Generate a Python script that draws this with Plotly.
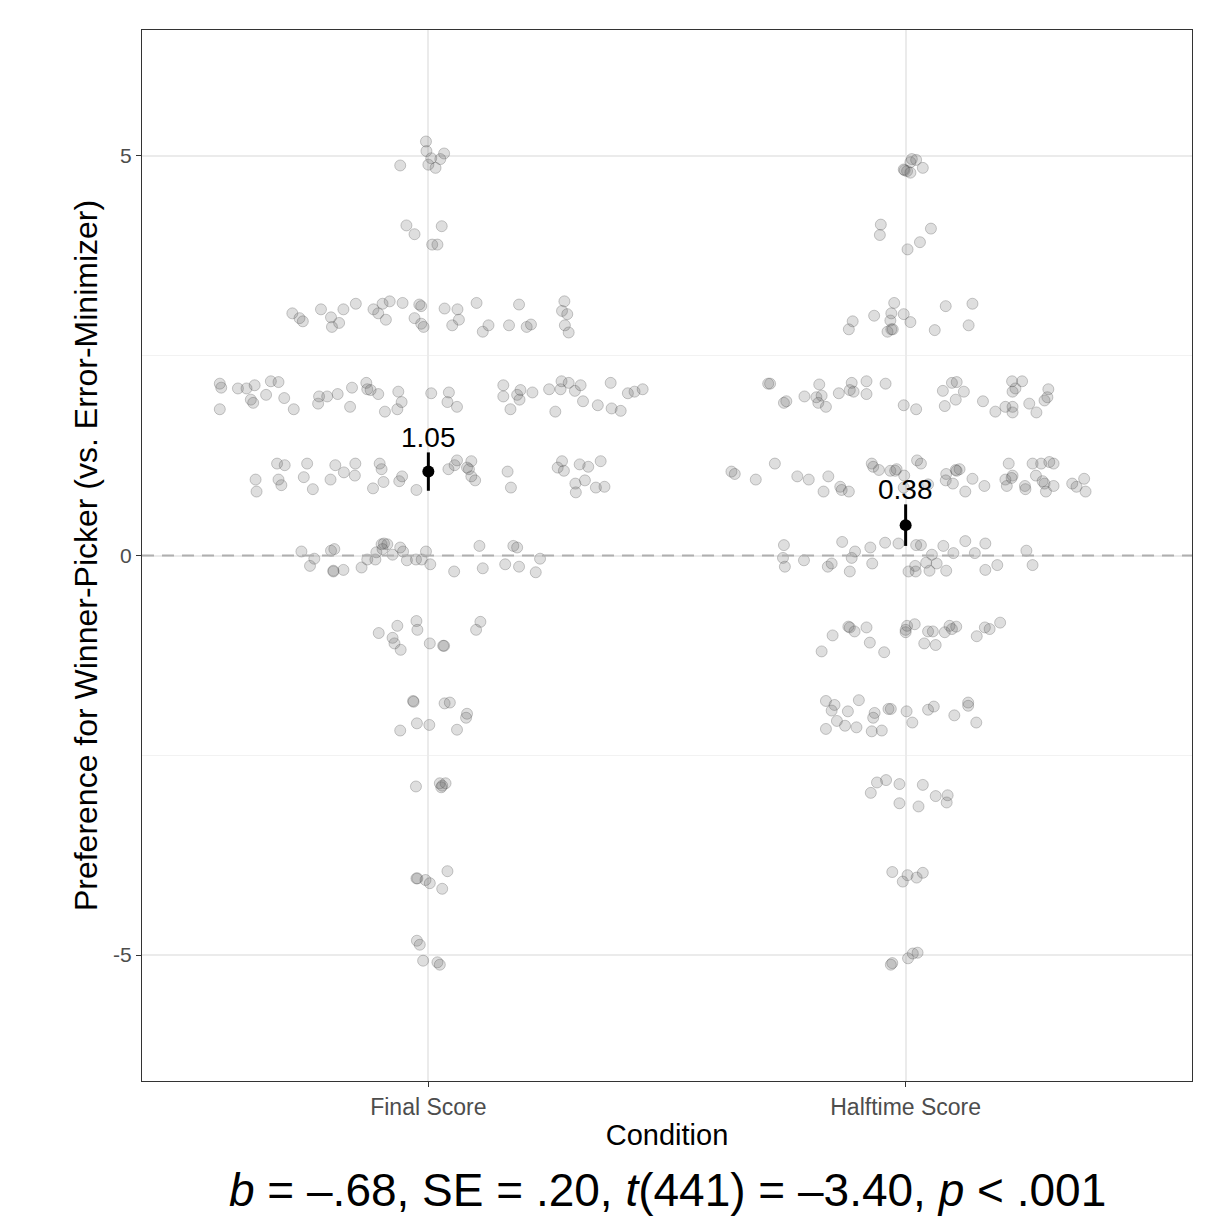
import plotly.graph_objects as go

# ---------------- data ----------------
categories = ["Final Score", "Halftime Score"]
cat_pos = [1, 2]

# (horizontal jitter offset, preference value) for each participant
final_points = [
    # around 5
    (-0.005, 5.18), (-0.004, 5.06), (0.033, 5.03), (0.006, 4.97), (0.025, 4.96),
    (-0.059, 4.88), (0.000, 4.89), (0.015, 4.85),
    # around 4
    (-0.046, 4.13), (-0.029, 4.02), (0.028, 4.12), (0.008, 3.89), (0.019, 3.89),
    # around 3
    (-0.285, 3.03), (-0.270, 2.97), (-0.263, 2.93), (-0.225, 3.08), (-0.204, 2.98),
    (-0.202, 2.86), (-0.187, 2.91), (-0.178, 3.08), (-0.152, 3.15), (-0.115, 3.08),
    (-0.105, 3.03), (-0.096, 3.15), (-0.081, 3.18), (-0.089, 2.95), (-0.054, 3.16),
    (-0.029, 2.97), (-0.019, 3.14), (-0.015, 3.12), (-0.015, 2.90), (-0.010, 2.86),
    (0.034, 3.09), (0.061, 3.08), (0.064, 2.95), (0.050, 2.88), (0.101, 3.16),
    (0.114, 2.80), (0.126, 2.88), (0.169, 2.88), (0.190, 3.14), (0.206, 2.86),
    (0.215, 2.89), (0.285, 3.18), (0.280, 3.06), (0.291, 3.02), (0.286, 2.88),
    (0.294, 2.79),
    # around 2
    (-0.437, 2.15), (-0.434, 2.10), (-0.399, 2.09), (-0.381, 2.09), (-0.364, 2.13),
    (-0.330, 2.18), (-0.314, 2.17), (-0.372, 1.95), (-0.367, 1.91), (-0.340, 2.01),
    (-0.302, 1.97), (-0.282, 1.83), (-0.437, 1.83), (-0.229, 1.99), (-0.231, 1.90),
    (-0.212, 1.99), (-0.190, 2.02), (-0.164, 1.86), (-0.160, 2.10), (-0.130, 2.16),
    (-0.128, 2.08), (-0.121, 2.07), (-0.105, 2.02), (-0.091, 1.80), (-0.065, 1.83),
    (-0.056, 1.92), (-0.063, 2.05), (0.006, 2.03), (0.043, 2.04), (0.040, 1.92),
    (0.060, 1.86), (0.157, 2.13), (0.157, 1.99), (0.172, 1.83), (0.186, 2.01),
    (0.193, 2.07), (0.191, 1.95), (0.218, 2.04), (0.253, 2.08), (0.277, 2.08),
    (0.279, 2.18), (0.294, 2.16), (0.307, 2.06), (0.319, 2.13), (0.266, 1.80),
    (0.324, 1.93), (0.355, 1.88), (0.382, 2.16), (0.384, 1.84), (0.403, 1.81),
    (0.418, 2.03), (0.432, 2.05), (0.449, 2.08),
    # around 1
    (-0.317, 1.15), (-0.301, 1.13), (-0.254, 1.15), (-0.195, 1.13), (-0.177, 1.04),
    (-0.153, 1.15), (-0.154, 1.00), (-0.102, 1.15), (-0.098, 1.08), (-0.362, 0.95),
    (-0.360, 0.80), (-0.314, 0.95), (-0.308, 0.88), (-0.261, 0.98), (-0.242, 0.83),
    (-0.205, 0.95), (-0.116, 0.84), (-0.094, 0.92), (-0.061, 0.93), (-0.055, 0.99),
    (-0.025, 0.82), (0.042, 1.08), (0.055, 1.13), (0.060, 1.19), (0.090, 1.18),
    (0.081, 1.10), (0.085, 1.08), (0.090, 0.99), (0.098, 0.94), (0.166, 1.05),
    (0.173, 0.85), (0.280, 1.18), (0.271, 1.10), (0.284, 1.06), (0.317, 1.14),
    (0.335, 1.11), (0.361, 1.18), (0.308, 0.90), (0.328, 0.94), (0.351, 0.85),
    (0.369, 0.86), (0.309, 0.79),
    # around 0
    (-0.266, 0.05), (-0.239, -0.04), (-0.248, -0.13), (-0.204, 0.06), (-0.197, 0.08),
    (-0.199, -0.19), (-0.199, -0.20), (-0.178, -0.18), (-0.140, -0.15), (-0.128, -0.05),
    (-0.111, -0.05), (-0.109, 0.04), (-0.098, 0.14), (-0.093, 0.15), (-0.086, 0.14),
    (-0.096, 0.08), (-0.075, 0.01), (-0.059, 0.10), (-0.053, 0.05), (-0.045, -0.06),
    (-0.026, -0.05), (-0.014, -0.05), (-0.005, 0.05), (0.004, -0.11), (0.054, -0.20),
    (0.107, 0.12), (0.114, -0.16), (0.161, -0.11), (0.178, 0.12), (0.186, 0.10),
    (0.190, -0.14), (0.225, -0.21), (0.234, -0.04),
    # around -1
    (-0.025, -0.82), (-0.065, -0.88), (-0.023, -0.93), (-0.104, -0.97), (-0.075, -1.03),
    (-0.071, -1.10), (-0.058, -1.18), (0.003, -1.10), (0.031, -1.13), (0.033, -1.13),
    (0.109, -0.83), (0.100, -0.93),
    # around -2
    (-0.032, -1.82), (-0.031, -1.83), (0.034, -1.85), (0.045, -1.84), (0.081, -1.98),
    (0.079, -2.03), (-0.059, -2.19), (-0.024, -2.10), (0.002, -2.12), (0.060, -2.18),
    # around -3
    (-0.026, -2.89), (0.024, -2.85), (0.036, -2.85), (0.027, -2.90), (0.029, -2.88),
    # around -4
    (-0.025, -4.04), (-0.023, -4.04), (-0.006, -4.06), (0.003, -4.10), (0.040, -3.95),
    (0.029, -4.17),
    # around -5
    (-0.024, -4.82), (-0.018, -4.87), (-0.011, -5.07), (0.019, -5.09), (0.024, -5.12),
]

half_points = [
    # around 5
    (0.013, 4.96), (0.022, 4.95), (0.010, 4.92), (-0.002, 4.82), (0.003, 4.81),
    (0.010, 4.79), (0.036, 4.85), (-0.004, 4.83),
    # around 4
    (-0.052, 4.14), (-0.054, 4.01), (0.053, 4.09), (0.030, 3.92), (0.004, 3.83),
    # around 3
    (-0.024, 3.16), (-0.066, 3.00), (-0.030, 3.03), (-0.004, 3.02), (-0.111, 2.93),
    (-0.119, 2.83), (-0.032, 2.94), (0.010, 2.92), (-0.038, 2.80), (-0.030, 2.83),
    (-0.027, 2.83), (0.061, 2.82), (0.084, 3.12), (0.140, 3.15), (0.132, 2.88),
    # around 2
    (-0.288, 2.15), (-0.284, 2.15), (-0.255, 1.91), (-0.250, 1.93), (-0.212, 1.99),
    (-0.181, 2.14), (-0.187, 1.98), (-0.176, 2.00), (-0.183, 1.91), (-0.167, 1.86),
    (-0.140, 2.03), (-0.113, 2.16), (-0.117, 2.07), (-0.109, 2.05), (-0.082, 2.18),
    (-0.082, 2.02), (-0.042, 2.15), (-0.004, 1.88), (0.022, 1.83), (0.078, 2.06),
    (0.097, 2.16), (0.107, 2.17), (0.122, 2.05), (0.105, 1.95), (0.082, 1.87),
    (0.162, 1.93), (0.188, 1.80), (0.209, 1.86), (0.224, 1.86), (0.224, 1.79),
    (0.223, 2.18), (0.244, 2.18), (0.224, 2.05), (0.230, 2.09), (0.259, 1.90),
    (0.274, 1.79), (0.299, 2.08), (0.297, 1.98), (0.291, 1.94),
    # around 1
    (-0.365, 1.05), (-0.358, 1.02), (-0.314, 0.95), (-0.274, 1.15), (-0.227, 0.99),
    (-0.203, 0.95), (-0.162, 0.99), (-0.172, 0.80), (-0.137, 0.86), (-0.134, 0.82),
    (-0.119, 0.80), (-0.071, 1.15), (-0.068, 1.11), (-0.056, 1.07), (-0.032, 1.06),
    (-0.019, 1.08), (-0.022, 1.06), (-0.003, 1.00), (-0.004, 0.85), (0.024, 1.19),
    (0.032, 1.15), (0.047, 0.89), (0.085, 1.02), (0.084, 0.94), (0.099, 0.90),
    (0.105, 1.07), (0.113, 1.08), (0.107, 1.06), (0.125, 0.80), (0.140, 0.96),
    (0.165, 0.87), (0.216, 1.15), (0.209, 0.95), (0.224, 1.00), (0.222, 0.97),
    (0.212, 0.87), (0.250, 0.87), (0.251, 0.83), (0.266, 1.15), (0.284, 1.15),
    (0.301, 1.17), (0.310, 1.15), (0.273, 1.00), (0.287, 0.93), (0.291, 0.90),
    (0.310, 0.87), (0.294, 0.80), (0.349, 0.90), (0.358, 0.86), (0.374, 0.96),
    (0.377, 0.80),
    # around 0
    (-0.255, 0.13), (-0.257, -0.03), (-0.253, -0.14), (-0.213, -0.06), (-0.163, -0.14),
    (-0.155, -0.10), (-0.117, -0.20), (-0.113, -0.03), (-0.106, 0.05), (-0.133, 0.17),
    (-0.074, 0.10), (-0.070, -0.10), (-0.043, 0.16), (-0.015, 0.15), (0.006, -0.20),
    (0.020, -0.13), (0.022, 0.13), (0.032, 0.13), (0.021, -0.20), (0.050, -0.19),
    (0.043, -0.09), (0.055, 0.01), (0.065, -0.10), (0.079, 0.12), (0.085, -0.19),
    (0.100, 0.03), (0.125, 0.18), (0.145, 0.03), (0.167, 0.15), (0.167, -0.18),
    (0.192, -0.12), (0.253, 0.06), (0.266, -0.12),
    # around -1
    (-0.176, -1.20), (-0.153, -1.00), (-0.120, -0.89), (-0.117, -0.90), (-0.107, -0.95),
    (-0.082, -0.90), (-0.075, -1.09), (-0.045, -1.21), (0.000, -0.93), (0.003, -0.88),
    (0.019, -0.86), (0.000, -0.96), (0.047, -0.95), (0.057, -0.95), (0.039, -1.10),
    (0.063, -1.12), (0.082, -0.96), (0.092, -0.88), (0.097, -0.92), (0.106, -0.89),
    (0.149, -1.01), (0.166, -0.90), (0.176, -0.92), (0.198, -0.84),
    # around -2
    (-0.167, -1.82), (-0.149, -1.87), (-0.155, -1.94), (-0.121, -1.95), (-0.098, -1.81),
    (-0.144, -2.07), (-0.127, -2.13), (-0.103, -2.15), (-0.167, -2.17), (-0.071, -2.20),
    (-0.050, -2.19), (-0.065, -1.97), (-0.068, -2.03), (-0.036, -1.92), (-0.031, -1.92),
    (0.002, -1.95), (0.014, -2.09), (0.047, -1.93), (0.059, -1.89), (0.102, -2.00),
    (0.131, -1.84), (0.131, -1.88), (0.148, -2.09),
    # around -3
    (-0.060, -2.84), (-0.041, -2.81), (-0.013, -2.86), (0.036, -2.87), (-0.073, -2.97),
    (0.063, -3.01), (0.088, -3.00), (0.086, -3.09), (-0.013, -3.10), (0.027, -3.14),
    # around -4
    (-0.028, -3.96), (0.004, -4.00), (0.023, -4.03), (0.036, -3.97), (-0.006, -4.08),
    # around -5
    (0.015, -4.98), (0.025, -4.97), (0.005, -5.04), (-0.028, -5.10), (-0.031, -5.12),
]

means = [1.05, 0.38]
ci_halfwidth = [0.24, 0.26]

y_tickvals = [-5, 0, 5]
y_ticktext = ["-5", "0", "5"]

footer = "<i>b</i> = \u2013.68, SE = .20, <i>t</i>(441) = \u20133.40, <i>p</i> &lt; .001"

FONT = "Liberation Sans, Arial, Helvetica, sans-serif"

# ---------------- figure ----------------
fig = go.Figure()

for pos, pts in zip(cat_pos, [final_points, half_points]):
    xs = [pos + dx for dx, _ in pts]
    ys = [v for _, v in pts]
    fig.add_trace(go.Scatter(
        x=xs, y=ys, mode="markers",
        marker=dict(size=11, color="rgba(90,90,90,0.2)",
                    line=dict(color="rgba(70,70,70,0.28)", width=1)),
        hoverinfo="y", showlegend=False,
    ))

# mean with error bars
fig.add_trace(go.Scatter(
    x=cat_pos, y=means, mode="markers",
    marker=dict(size=12, color="black"),
    error_y=dict(type="data", array=ci_halfwidth, visible=True,
                 thickness=3, width=0, color="black"),
    showlegend=False,
))

# zero reference line
fig.add_shape(type="line", xref="paper", x0=0, x1=1, yref="y", y0=0, y1=0,
              line=dict(color="#AFAFAF", width=2, dash="12px,8px"), layer="above")

for pos, m, ci in zip(cat_pos, means, ci_halfwidth):
    fig.add_annotation(x=pos, y=m + ci, xref="x", yref="y", text=f"{m:.2f}",
                       showarrow=False, yanchor="bottom", yshift=-3,
                       font=dict(family=FONT, size=28, color="black"))

fig.add_annotation(x=0.5, y=0, xref="paper", yref="paper", text=footer,
                   showarrow=False, xanchor="center", yanchor="middle", yshift=-109,
                   font=dict(family=FONT, size=46, color="black"))

fig.update_layout(
    width=1202, height=1209,
    margin=dict(l=134, r=18, t=22, b=136),
    plot_bgcolor="white", paper_bgcolor="white",
    font=dict(family=FONT),
    showlegend=False,
    xaxis=dict(
        range=[0.4, 2.6], tickmode="array", tickvals=cat_pos, ticktext=categories,
        showgrid=True, gridcolor="#EBEBEB", gridwidth=2, zeroline=False,
        showline=True, linecolor="#333333", linewidth=1, mirror=True,
        ticks="outside", ticklen=5, tickcolor="#333333", tickwidth=1,
        tickfont=dict(family=FONT, size=23, color="#4D4D4D"),
        title=dict(text="Condition", font=dict(family=FONT, size=29, color="black"),
                   standoff=6),
    ),
    yaxis=dict(
        range=[-6.575, 6.575], tickmode="array", tickvals=y_tickvals, ticktext=y_ticktext,
        showgrid=True, gridcolor="#EBEBEB", gridwidth=2, zeroline=False,
        showline=True, linecolor="#333333", linewidth=1, mirror=True,
        ticks="outside", ticklen=5, tickcolor="#333333", tickwidth=1,
        tickfont=dict(family=FONT, size=21, color="#4D4D4D"),
        minor=dict(tickmode="array", tickvals=[-2.5, 2.5], showgrid=True,
                   gridcolor="#F2F2F2", gridwidth=1, ticks=""),
        title=dict(text="Preference for Winner-Picker (vs. Error-Minimizer)",
                   font=dict(family=FONT, size=32, color="black"), standoff=5),
    ),
)

fig.write_html("out.html")
